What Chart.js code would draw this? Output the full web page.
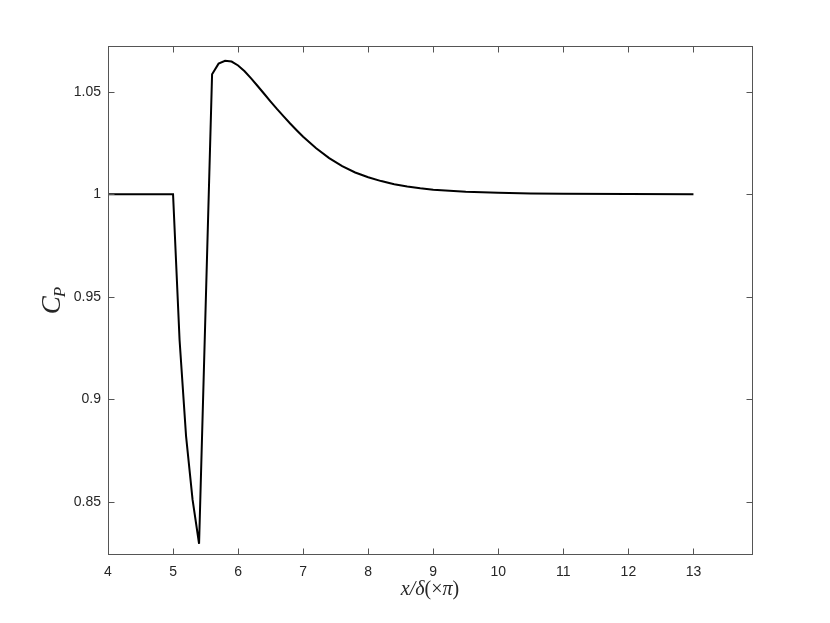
<!DOCTYPE html>
<html>
<head>
<meta charset="utf-8">
<script src="https://cdn.jsdelivr.net/npm/chart.js@4.4.1/dist/chart.umd.min.js"></script>
<style>
  html, body { margin: 0; padding: 0; background: #fff; }
  #wrap { width: 830px; height: 623px; }
</style>
</head>
<body>
<div id="wrap"><canvas id="cp"></canvas></div>
<script>
// datos
const xVals = [4, 5, 5.1, 5.2, 5.3, 5.4, 5.6, 5.7, 5.8, 5.9, 6.0, 6.1, 6.2, 6.3, 6.4, 6.5,
    6.6, 6.7, 6.8, 6.9, 7.0, 7.2, 7.4, 7.6, 7.8, 8.0, 8.2, 8.4, 8.6, 8.8, 9.0, 9.5,
    10, 10.5, 11, 12, 13];
const cpVals = [1, 1, 0.929, 0.882, 0.851, 0.8295, 1.0585, 1.0637, 1.0651, 1.0647, 1.0628, 1.0600,
    1.0565, 1.0528, 1.0490, 1.0452, 1.0415, 1.0380, 1.0345, 1.0312, 1.0280, 1.0224,
    1.0176, 1.0137, 1.0106, 1.0083, 1.0064, 1.0049, 1.0038, 1.0029, 1.0022, 1.0012,
    1.0007, 1.0004, 1.0002, 1.0001, 1.0];
const xTicks = [4, 5, 6, 7, 8, 9, 10, 11, 12, 13];
const yTicks = [0.85, 0.9, 0.95, 1, 1.05];
const yTickLabels = ['0.85', '0.9', '0.95', '1', '1.05'];

const axisColor = '#555555';
const textColor = '#262626';

// caja estilo matlab con ticks hacia dentro y titulos de ejes
const matlabBox = {
    id: 'matlabBox',
    afterDraw(chart) {
        const ctx = chart.ctx;
        const a = chart.chartArea;
        const xs = chart.scales.x, ys = chart.scales.y;
        const L = Math.round(a.left) + 0.5, R = Math.round(a.right) + 0.5;
        const T = Math.round(a.top) + 0.5, B = Math.round(a.bottom) + 0.5;
        ctx.save();
        ctx.strokeStyle = axisColor;
        ctx.lineWidth = 1;
        ctx.strokeRect(L, T, R - L, B - T);
        ctx.beginPath();
        xTicks.forEach(v => {
            const px = Math.round(xs.getPixelForValue(v)) + 0.5;
            ctx.moveTo(px, B); ctx.lineTo(px, B - 6);
            ctx.moveTo(px, T); ctx.lineTo(px, T + 6);
        });
        yTicks.forEach(v => {
            const py = Math.round(ys.getPixelForValue(v)) + 0.5;
            ctx.moveTo(L, py); ctx.lineTo(L + 6, py);
            ctx.moveTo(R, py); ctx.lineTo(R - 6, py);
        });
        ctx.stroke();

        // titulo eje x: x/δ(×π)
        ctx.fillStyle = textColor;
        ctx.textBaseline = 'middle';
        const serif = '"Liberation Serif", "DejaVu Serif", serif';
        const parts = [
            ['italic 20px ' + serif, 'x/δ'],
            ['20px ' + serif, '(×'],
            ['italic 20px ' + serif, 'π'],
            ['20px ' + serif, ')']
        ];
        let total = 0;
        parts.forEach(p => { ctx.font = p[0]; total += ctx.measureText(p[1]).width; });
        let cx = (a.left + a.right) / 2 - total / 2;
        ctx.textAlign = 'left';
        parts.forEach(p => {
            ctx.font = p[0];
            ctx.fillText(p[1], cx, 590);
            cx += ctx.measureText(p[1]).width;
        });

        // titulo eje y: C_P
        ctx.translate(56, (a.top + a.bottom) / 2);
        ctx.rotate(-Math.PI / 2);
        ctx.font = 'italic 27px ' + serif;
        const wC = ctx.measureText('C').width;
        ctx.font = 'italic 17px ' + serif;
        const wP = ctx.measureText('P').width;
        const sx = -(wC + wP) / 2;
        ctx.font = 'italic 27px ' + serif;
        ctx.fillText('C', sx, -3);
        ctx.font = 'italic 17px ' + serif;
        ctx.fillText('P', sx + wC - 1, 5);
        ctx.restore();
    }
};

const ctx = document.getElementById('cp').getContext('2d');
new Chart(ctx, {
    type: 'line',
    data: {
        datasets: [{
            data: xVals.map((x, i) => ({ x: x, y: cpVals[i] })),
            borderColor: '#000000',
            borderWidth: 2,
            pointRadius: 0,
            tension: 0,
            fill: false
        }]
    },
    options: {
        responsive: true,
        maintainAspectRatio: false,
        animation: false,
        layout: { padding: { left: 0, top: 46, right: 78, bottom: 0 } },
        plugins: { legend: { display: false }, tooltip: { enabled: false } },
        scales: {
            x: {
                type: 'linear',
                min: 4,
                max: 13.9,
                grid: { display: false, drawTicks: false },
                border: { display: false },
                afterFit: s => { s.height = 69; },
                afterBuildTicks: s => { s.ticks = xTicks.map(v => ({ value: v })); },
                ticks: {
                    padding: 10,
                    color: textColor,
                    font: { family: '"Liberation Sans", Arial, Helvetica, sans-serif', size: 14 },
                    maxRotation: 0,
                    callback: v => String(v)
                }
            },
            y: {
                type: 'linear',
                min: 0.8245,
                max: 1.0723,
                grid: { display: false, drawTicks: false },
                border: { display: false },
                afterFit: s => { s.width = 108; },
                afterBuildTicks: s => { s.ticks = yTicks.map(v => ({ value: v })); },
                ticks: {
                    padding: 7,
                    color: textColor,
                    font: { family: '"Liberation Sans", Arial, Helvetica, sans-serif', size: 14 },
                    callback: v => yTickLabels[yTicks.indexOf(v)] ?? ''
                }
            }
        }
    },
    plugins: [matlabBox]
});
</script>
</body>
</html>
